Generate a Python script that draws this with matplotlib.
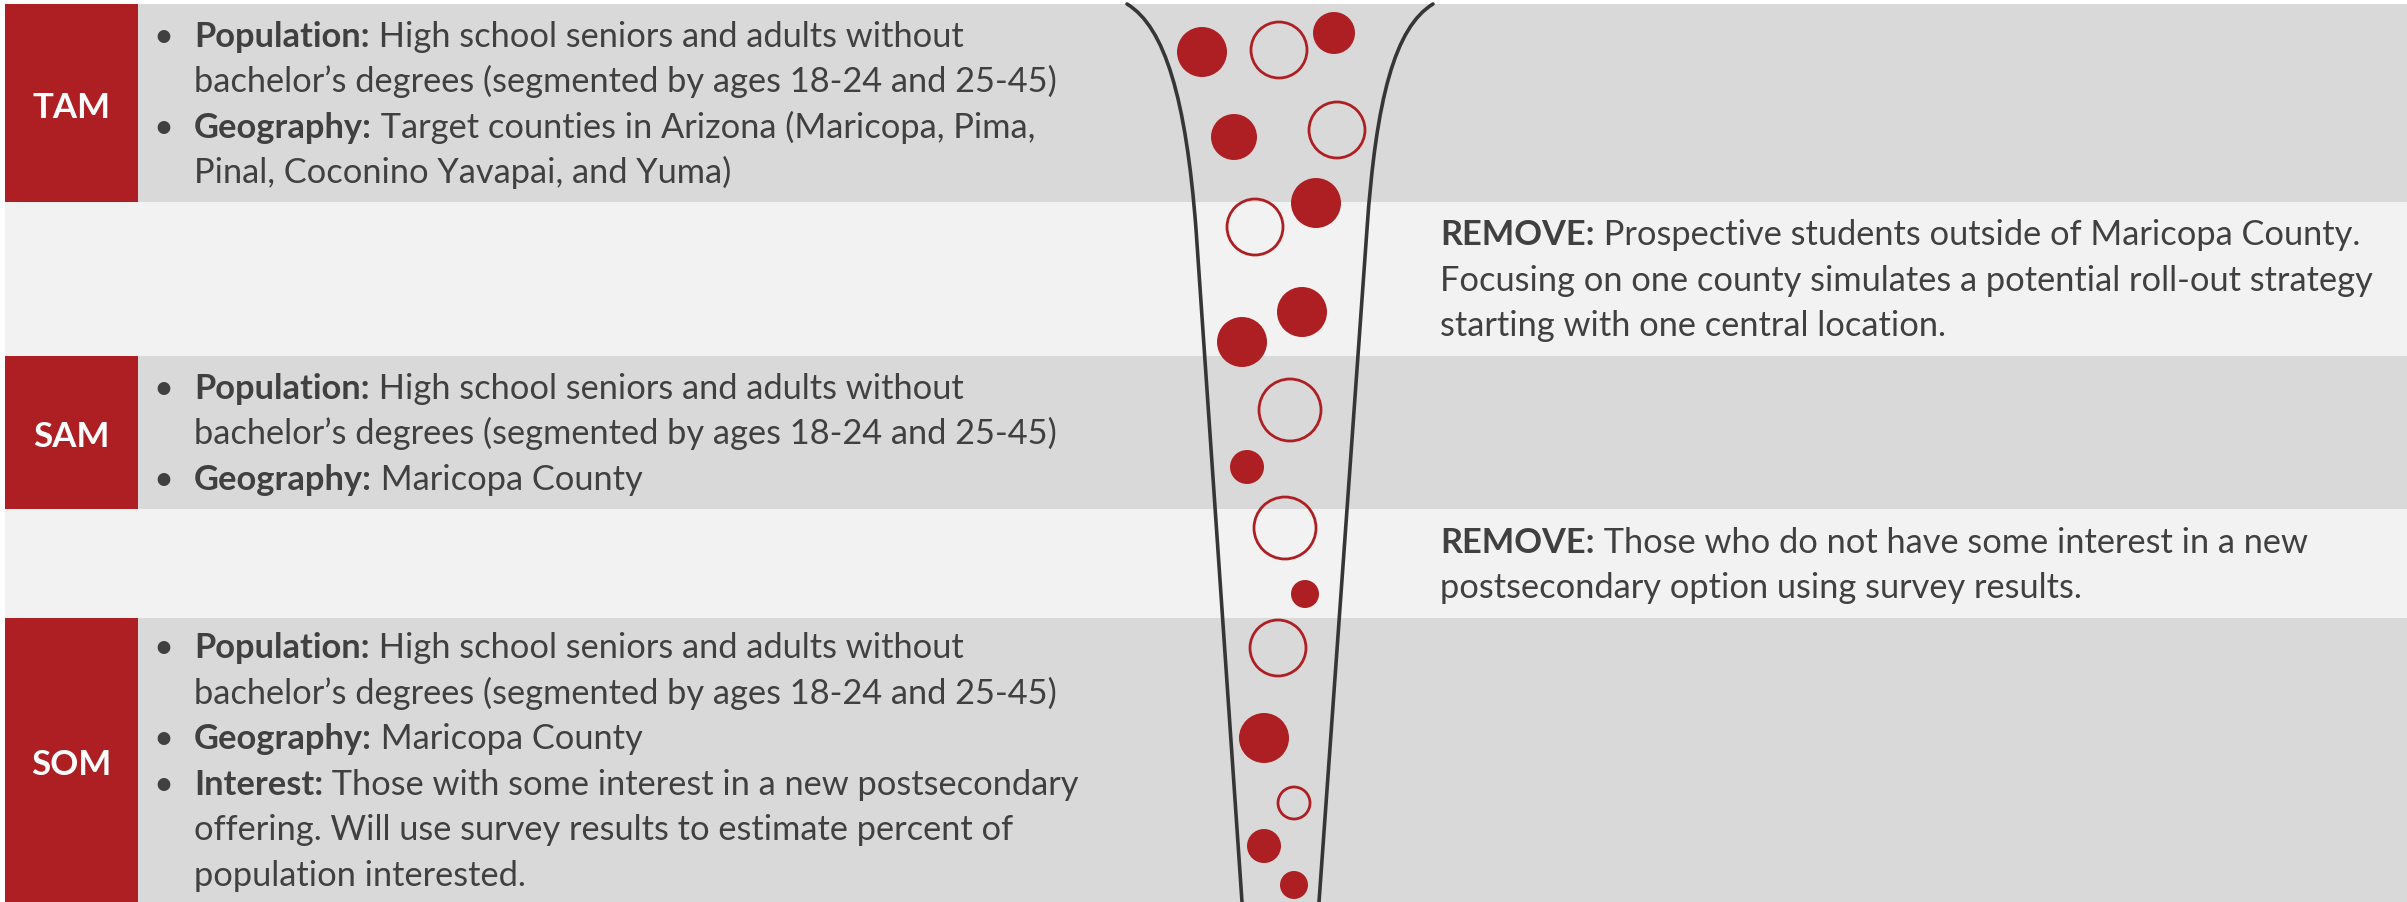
import matplotlib
matplotlib.use('Agg')
import matplotlib.pyplot as plt
from matplotlib.patches import Rectangle, Circle, PathPatch
from matplotlib.path import Path
from matplotlib.font_manager import FontProperties

# ------------------------------------------------------------------ data
stage_labels = ['TAM', '', 'SAM', '', 'SOM']
band_edges = [5, 203, 357, 510, 619, 903]

tam_lines = [
    ('•', 'Population:', ' High school seniors and adults without'),
    ('', '', 'bachelor’s degrees (segmented by ages 18-24 and 25-45)'),
    ('•', 'Geography:', ' Target counties in Arizona (Maricopa, Pima,'),
    ('', '', 'Pinal, Coconino Yavapai, and Yuma)'),
]
remove1_lines = [
    ('', 'REMOVE:', ' Prospective students outside of Maricopa County.'),
    ('', '', 'Focusing on one county simulates a potential roll-out strategy'),
    ('', '', 'starting with one central location.'),
]
sam_lines = [
    ('•', 'Population:', ' High school seniors and adults without'),
    ('', '', 'bachelor’s degrees (segmented by ages 18-24 and 25-45)'),
    ('•', 'Geography:', ' Maricopa County'),
]
remove2_lines = [
    ('', 'REMOVE:', ' Those who do not have some interest in a new'),
    ('', '', 'postsecondary option using survey results.'),
]
som_lines = [
    ('•', 'Population:', ' High school seniors and adults without'),
    ('', '', 'bachelor’s degrees (segmented by ages 18-24 and 25-45)'),
    ('•', 'Geography:', ' Maricopa County'),
    ('•', 'Interest:', ' Those with some interest in a new postsecondary'),
    ('', '', 'offering. Will use survey results to estimate percent of'),
    ('', '', 'population interested.'),
]
band_texts = [tam_lines, remove1_lines, sam_lines, remove2_lines, som_lines]

# decorative "people" circles in the funnel (pixel coords, radius)
circle_x = [1202, 1279, 1334, 1234, 1337, 1316, 1255, 1302, 1242, 1290,
            1247, 1285, 1305, 1278, 1264, 1294, 1264, 1294]
circle_y = [53, 51, 34, 138, 131, 204, 228, 313, 343, 411,
            468, 529, 595, 649, 739, 804, 847, 886]
circle_r = [25, 29, 21, 23, 29, 25, 29, 25, 25, 32,
            17, 32, 14, 29, 25, 17, 17, 14]
circle_filled = [1, 0, 1, 1, 0, 1, 0, 1, 1, 0,
                 1, 0, 1, 0, 1, 0, 1, 1]

# funnel outline (cubic Bezier flare + straight stem)
funnel_left = [(1127, 5), (1165, 28), (1186, 100), (1196, 230), (1242, 903)]
funnel_right = [(1433, 5), (1395, 28), (1376, 100), (1367, 230), (1319, 903)]

# ------------------------------------------------------------------ style
W, H, DPI = 2407, 903, 100
RED = '#AE1F24'
DARK_BAND = '#D9D9D9'
LIGHT_BAND = '#F2F2F2'
TEXT = '#404040'
LINE = '#363636'
FONT = ['Lato', 'DejaVu Sans']

fig = plt.figure(figsize=(W / DPI, H / DPI), dpi=DPI)
fig.patch.set_facecolor('white')
ax = fig.add_axes([0, 0, 1, 1])
ax.set_xlim(0, W)
ax.set_ylim(H, 0)
ax.axis('off')
renderer = fig.canvas.get_renderer()


def text_width(s, fp):
    t = ax.text(0, 0, s, fontproperties=fp)
    w = t.get_window_extent(renderer).width
    t.remove()
    return w


# calibrate font sizes to the reference line widths
probe = FontProperties(family=FONT, size=20)
body_size = 20 * 866 / text_width('bachelor’s degrees (segmented by ages 18-24 and 25-45)', probe)
probe_b = FontProperties(family=FONT, weight='bold', size=20)
label_size = 20 * 78 / text_width('TAM', probe_b)

fp_reg = FontProperties(family=FONT, size=body_size)
fp_bold = FontProperties(family=FONT, weight='bold', size=body_size)
fp_label = FontProperties(family=FONT, weight='bold', size=label_size)

LINE_GAP = 45.5
LEFT_BULLET_X = 163
LEFT_TEXT_X = 194
RIGHT_TEXT_X = 1440

for i in range(len(stage_labels)):
    y0, y1 = band_edges[i], band_edges[i + 1]
    market = stage_labels[i] != ''
    ax.add_patch(Rectangle((5 if not market else 138, y0), W, y1 - y0,
                           facecolor=DARK_BAND if market else LIGHT_BAND,
                           edgecolor='none', zorder=0))
    if market:
        ax.add_patch(Rectangle((5, y0), 133, y1 - y0, facecolor=RED,
                               edgecolor='none', zorder=1))
        ax.text(71.5, (y0 + y1) / 2 + 14, stage_labels[i], color='white',
                fontproperties=fp_label, ha='center', va='baseline', zorder=3)
    lines = band_texts[i]
    n = len(lines)
    center = (y0 + y1) / 2 + 11
    x_text = LEFT_TEXT_X if market else RIGHT_TEXT_X
    for k, (bullet, bold, reg) in enumerate(lines):
        yb = center + (k - (n - 1) / 2) * LINE_GAP
        if bullet:
            ax.text(LEFT_BULLET_X, yb, bullet, fontproperties=fp_reg, color=TEXT,
                    ha='center', va='baseline', zorder=3)
        x = x_text
        if bold:
            t = ax.text(x, yb, bold, fontproperties=fp_bold, color=TEXT,
                        ha='left', va='baseline', zorder=3)
            x += t.get_window_extent(renderer).width
        ax.text(x, yb, reg, fontproperties=fp_reg, color=TEXT,
                ha='left', va='baseline', zorder=3)

# funnel
for pts in (funnel_left, funnel_right):
    codes = [Path.MOVETO, Path.CURVE4, Path.CURVE4, Path.CURVE4, Path.LINETO]
    ax.add_patch(PathPatch(Path(pts, codes), facecolor='none', edgecolor=LINE,
                           lw=2.6, capstyle='round', zorder=4))

for cx, cy, r, f in zip(circle_x, circle_y, circle_r, circle_filled):
    if f:
        ax.add_patch(Circle((cx, cy), r, facecolor=RED, edgecolor='none', zorder=5))
    else:
        ax.add_patch(Circle((cx, cy), r - 1, facecolor='none', edgecolor=RED,
                            lw=2.0, zorder=5))

fig.savefig('out.png', dpi=DPI, facecolor='white')
